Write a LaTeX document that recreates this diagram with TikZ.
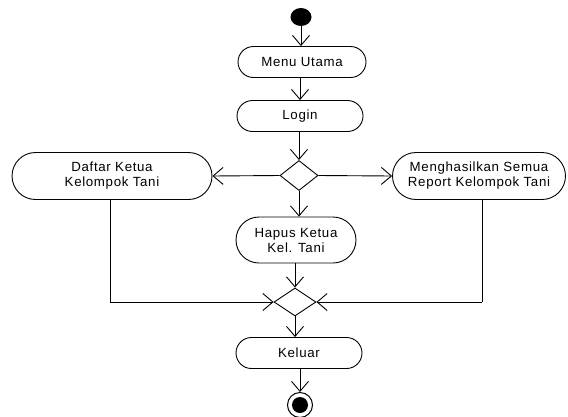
\documentclass[tikz,border=0pt]{standalone}
\usepackage{fontspec}
\setmainfont{Liberation Sans}[LetterSpace=5]
\usetikzlibrary{arrows.meta,shapes.misc,shapes.geometric}
\begin{document}
\begin{tikzpicture}[x=1pt,y=-1pt,
  every node/.style={font=\fontsize{13.3}{15}\selectfont, inner sep=0pt},
  act/.style={draw, line width=0.9pt, rounded rectangle, align=center},
  choice/.style={draw, line width=0.9pt, diamond, minimum width=#1, minimum height=28pt},
  flow/.style={draw, line width=0.9pt, -{Straight Barb[length=10pt,width=17pt,line width=0.9pt]}},
  wire/.style={draw, line width=0.9pt}]
\useasboundingbox (0,0) rectangle (568,416);

% start and activities
\node[ellipse, fill=black, minimum width=21pt, minimum height=18pt] (start) at (301,17) {};
\node[act, minimum width=128pt, minimum height=31pt] (menu) at (302,62) {Menu Utama};
\node[act, minimum width=126pt, minimum height=31pt] (login) at (300,116) {Login};
\node[choice=38pt, minimum height=30pt] (d1) at (299,175.5) {};
\node[act, minimum width=200pt, minimum height=47pt] (daftar) at (112,176) {Daftar Ketua\\Kelompok Tani};
\node[act, minimum width=173pt, minimum height=47pt] (report) at (479,176) {Menghasilkan Semua\\Report Kelompok Tani};
\node[act, minimum width=120pt, minimum height=46pt] (hapus) at (296,240) {Hapus Ketua\\Kel. Tani};
\node[choice=42pt] (merge) at (295,302) {};
\node[act, minimum width=126pt, minimum height=31pt] (keluar) at (299,353) {Keluar};
\node[circle, draw, line width=1pt, minimum size=25pt] (end) at (300,405) {};
\node[circle, fill=black, minimum size=16pt] at (end.center) {};

% control flow
\path[flow] (start) -- (start |- menu.north);
\path[flow] (menu.south -| login) -- (login.north);
\path[flow] (login.south -| d1) -- (d1.north);
\path[flow] (d1.west) -- (daftar.east);
\path[flow] (d1.east) -- (report.west);
\path[flow] (d1.south) -- (d1.south |- hapus.north);
\coordinate (dl) at (110,302);
\coordinate (rl) at (482,302);
\path[wire] (110,0 |- daftar.south) -- (dl);
\path[flow] (dl) -- (merge.west);
\path[wire] (482,0 |- report.south) -- (rl);
\path[flow] (rl) -- (merge.east);
\path[flow] (merge.north |- hapus.south) -- (merge.north);
\path[flow] (merge.south) -- (merge.south |- keluar.north);
\path[flow] (keluar.south -| end) -- (end.north);
\end{tikzpicture}
\end{document}
